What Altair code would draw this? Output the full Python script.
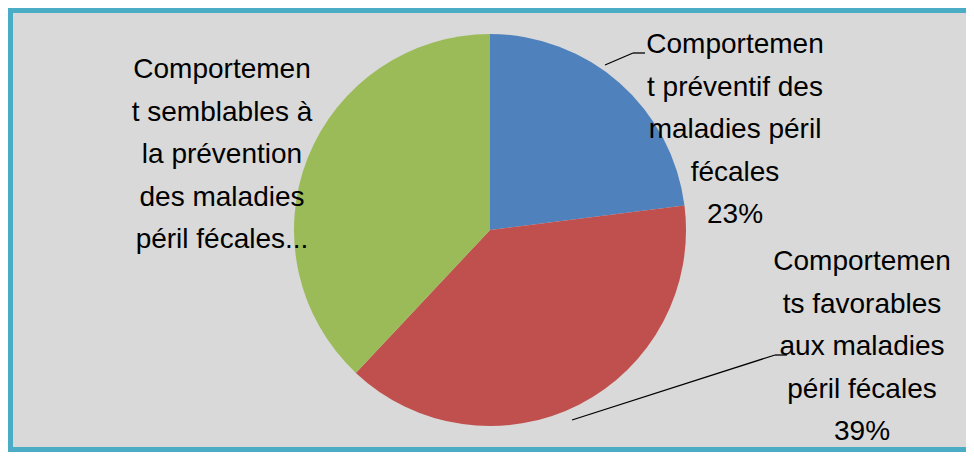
import altair as alt
import pandas as pd

categories = [
    "Comportement préventif des maladies péril fécales",
    "Comportements favorables aux maladies péril fécales",
    "Comportement semblables à la prévention des maladies péril fécales",
]
values = [23, 39, 38]
colors = ["#4F81BD", "#C0504D", "#9BBB59"]
labels = [
    "Comportemen\nt préventif des\nmaladies péril\nfécales\n23%",
    "Comportemen\nts favorables\naux maladies\npéril fécales\n39%",
    "Comportemen\nt semblables à\nla prévention\ndes maladies\npéril fécales...",
]

W, H = 958, 444
FONT = "Liberation Sans, Arial, sans-serif"

df = pd.DataFrame({"cat": categories, "value": values, "order": [0, 1, 2]})

frame = alt.Chart(pd.DataFrame({"a": [0]})).mark_rect(
    fill="#D9D9D9", stroke="#4BACC6", strokeWidth=5
).encode(
    x=alt.value(2.5), x2=alt.value(990), y=alt.value(2.5), y2=alt.value(441.5)
)

pie = alt.Chart(df).mark_arc(radius=196, stroke=None).encode(
    theta=alt.Theta("value:Q", stack=True),
    order=alt.Order("order:Q"),
    color=alt.Color("cat:N", scale=alt.Scale(domain=categories, range=colors), legend=None),
    x=alt.value(482),
    y=alt.value(222),
)

label_pos = [(727, 37), (854, 254), (214, 62)]
text_layers = []
for lab, (lx, ly) in zip(labels, label_pos):
    text_layers.append(
        alt.Chart(pd.DataFrame({"t": [lab]})).mark_text(
            font=FONT, fontSize=28, lineBreak="\n", lineHeight=42.5,
            align="center", baseline="middle", color="#000000"
        ).encode(text="t:N", x=alt.value(lx), y=alt.value(ly))
    )

leaders = [
    ((597, 57), (625, 45)), ((625, 45), (637, 45)),
    ((564, 412), (767, 347)), ((767, 347), (779, 347)),
]
rule_layers = []
for (x1, y1), (x2, y2) in leaders:
    rule_layers.append(
        alt.Chart(pd.DataFrame({"a": [0]})).mark_rule(color="#000000", strokeWidth=1.3).encode(
            x=alt.value(x1), y=alt.value(y1), x2=alt.value(x2), y2=alt.value(y2)
        )
    )

chart = alt.layer(frame, pie, *rule_layers, *text_layers).properties(
    width=W, height=H, padding=0, autosize=alt.AutoSizeParams(type="none"),
    background="#FFFFFF",
).configure_view(stroke=None)

chart.save("out.html", embed_options={"renderer": "svg", "actions": False})
